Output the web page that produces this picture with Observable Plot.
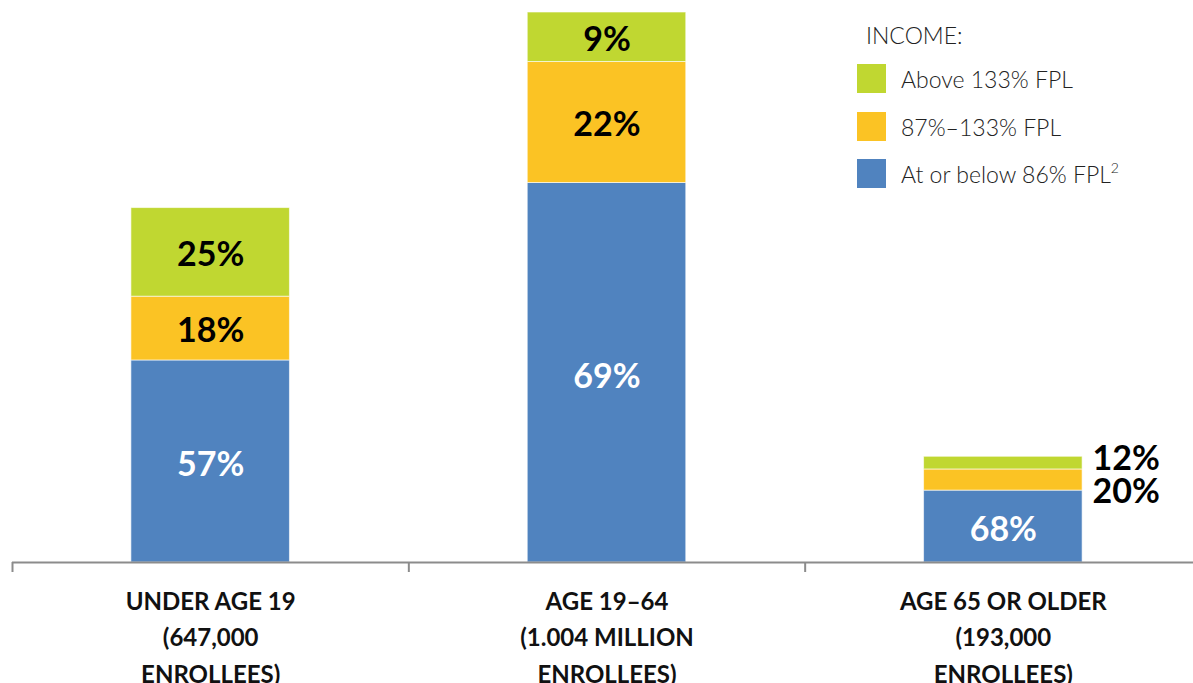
<!DOCTYPE html>
<html>
<head>
<meta charset="utf-8">
<script src="https://cdn.jsdelivr.net/npm/d3@7"></script>
<script src="https://cdn.jsdelivr.net/npm/@observablehq/plot@0.6"></script>
<style>
  html, body { margin: 0; padding: 0; background: #fff; }
  #wrap { position: relative; width: 1193px; height: 683px; overflow: hidden; font-family: Lato, "Open Sans", sans-serif; }
  #legend { position: absolute; left: 857px; top: 0; color: #222; font-weight: 300; font-size: 23px; }
  #legend .title { position: absolute; left: 9px; top: 24px; white-space: nowrap; line-height: 1; }
  #legend .row { position: absolute; left: 0; display: flex; align-items: center; white-space: nowrap; height: 29px; }
  #legend .sw { width: 29px; height: 29px; margin-right: 15px; flex: none; }
  #legend sup { font-size: 14px; vertical-align: 10px; line-height: 0; }
</style>
</head>
<body>
<div id="wrap"></div>
<script>
// ---- data ----
const categories = ["UNDER AGE 19", "AGE 19–64", "AGE 65 OR OLDER"];
const enrolleeLabels = ["(647,000", "(1.004 MILLION", "(193,000"];
const enrollees = [647000, 1004000, 193000];
const incomeGroups = ["At or below 86% FPL", "87%–133% FPL", "Above 133% FPL"];
const pctLow = [57, 69, 68];
const pctMid = [18, 22, 20];
const pctHigh = [25, 9, 12];
const groupColors = ["#5083BF", "#FBC324", "#C0D731"];
const legendOrder = ["Above 133% FPL", "87%–133% FPL", "At or below 86% FPL"];

// ---- build rows ----
const rows = [];
categories.forEach((c, i) => {
  let base = 0;
  [pctLow[i], pctMid[i], pctHigh[i]].forEach((p, g) => {
    const v = enrollees[i] * p / 100;
    rows.push({i, cat: c, group: incomeGroups[g], g, pct: p, y1: base, y2: base + v, small: v < 50000});
    base += v;
  });
});
const catRows = categories.map((c, i) => ({i, label: c + "\n" + enrolleeLabels[i] + "\n" + "ENROLLEES)"}));

const W = 1193, H = 683;
const labelFont = 34;
const chart = Plot.plot({
  width: W,
  height: H,
  marginLeft: 12,
  marginRight: -8,
  marginTop: 12,
  marginBottom: 121,
  style: {fontFamily: "Lato, 'Open Sans', sans-serif", background: "transparent"},
  x: {domain: [0, 3], axis: null},
  y: {domain: [0, d3.max(enrollees)], axis: null},
  color: {domain: incomeGroups, range: groupColors},
  marks: [
    Plot.rect(rows, {x1: d => d.i + 0.3, x2: d => d.i + 0.7, y1: "y1", y2: "y2", fill: "group", stroke: "#fff", strokeOpacity: 0.6, strokeWidth: 1}),
    Plot.ruleY([0], {stroke: "#8c8c8c", strokeWidth: 2}),
    Plot.axisX({ticks: [0, 1, 2, 3], tickSize: 10, tickFormat: () => "", stroke: "#8c8c8c", strokeWidth: 2, tickPadding: 0, label: null}),
    // inside labels: white on blue
    Plot.text(rows.filter(d => !d.small && d.g === 0), {
      x: d => d.i + 0.5, y: d => (d.y1 + d.y2) / 2, text: d => d.pct + "%", dy: 4,
      fill: "#fff", fontSize: labelFont, fontWeight: 700
    }),
    // inside labels: black on yellow/green
    Plot.text(rows.filter(d => !d.small && d.g !== 0), {
      x: d => d.i + 0.5, y: d => (d.y1 + d.y2) / 2, text: d => d.pct + "%", dy: 3,
      fill: "#000", fontSize: labelFont, fontWeight: 700
    }),
    // outside labels for thin segments
    Plot.text(rows.filter(d => d.small && d.g === 2), {
      x: d => d.i + 0.7, y: d => (d.y1 + d.y2) / 2, text: d => d.pct + "%",
      textAnchor: "start", dx: 10, dy: -4, fill: "#000", fontSize: labelFont, fontWeight: 700
    }),
    Plot.text(rows.filter(d => d.small && d.g === 1), {
      x: d => d.i + 0.7, y: d => (d.y1 + d.y2) / 2, text: d => d.pct + "%",
      textAnchor: "start", dx: 10, dy: 12, fill: "#000", fontSize: labelFont, fontWeight: 700
    }),
    // category labels
    Plot.text(catRows, {
      x: d => d.i + 0.5, y: 0, text: "label", lineAnchor: "top", dy: 21, lineHeight: 1.53,
      fill: "#111", fontSize: 24, fontWeight: 700
    })
  ]
});
const wrap = document.getElementById("wrap");
wrap.appendChild(chart);

// ---- legend ----
const legend = document.createElement("div");
legend.id = "legend";
const title = document.createElement("div");
title.className = "title";
title.textContent = "INCOME:";
legend.appendChild(title);
const rowTops = [64, 112, 159];
legendOrder.forEach((name, k) => {
  const r = document.createElement("div");
  r.className = "row";
  r.style.top = rowTops[k] + "px";
  const sw = document.createElement("div");
  sw.className = "sw";
  sw.style.background = groupColors[incomeGroups.indexOf(name)];
  const t = document.createElement("span");
  t.innerHTML = name === "At or below 86% FPL" ? name + "<sup>2</sup>" : name;
  r.appendChild(sw);
  r.appendChild(t);
  legend.appendChild(r);
});
wrap.appendChild(legend);
</script>
</body>
</html>
